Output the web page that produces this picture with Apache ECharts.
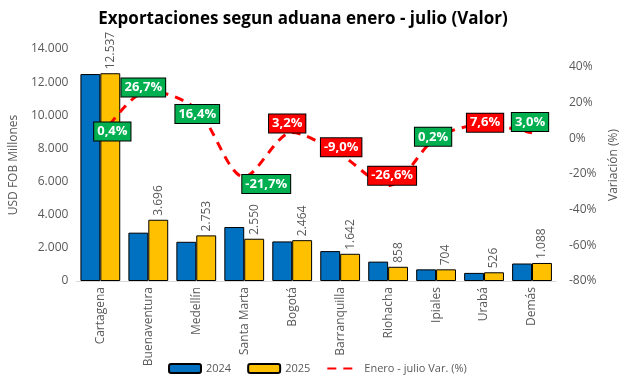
<!DOCTYPE html>
<html>
<head>
<meta charset="utf-8">
<script src="https://cdn.jsdelivr.net/npm/echarts@6/dist/echarts.min.js"></script>
<style>
html,body{margin:0;padding:0;background:#fff;}
#chart{width:631px;height:384px;}
</style>
</head>
<body>
<div id="chart"></div>
<script>
const categories = ['Cartagena','Buenaventura','Medellín','Santa Marta','Bogotá','Barranquilla','Riohacha','Ipiales','Urabá','Demás'];
const values2024 = [12487, 2917, 2365, 3257, 2388, 1804, 1169, 703, 489, 1056];
const values2025 = [12537, 3696, 2753, 2550, 2464, 1642, 858, 704, 526, 1088];
const variation = [0.4, 26.7, 16.4, -21.7, 3.2, -9.0, -26.6, 0.2, 7.6, 3.0];
const leftTicks = [0, 2000, 4000, 6000, 8000, 10000, 12000, 14000];
const rightTicks = [-80, -60, -40, -20, 0, 20, 40];

// label styling (not data)
const GREEN = '#00B050', RED = '#FF0000';
const labelColors = [GREEN, GREEN, GREEN, GREEN, RED, RED, RED, GREEN, RED, GREEN];
const labelOffsets = [[12,-6],[-5,-3],[1,5],[22,7],[-5,-9],[1,-7],[4,-10],[-3,-1],[1,-2],[-2,-11]];

const FONT = '"Open Sans", "Noto Sans", sans-serif';
const GRAY = '#595959';

function fmtThousands(v){
  return String(Math.round(v)).replace(/\B(?=(\d{3})+(?!\d))/g, '.');
}
function fmtPct(v){
  return v.toFixed(1).replace('.', ',') + '%';
}

const chart = echarts.init(document.getElementById('chart'), null, {renderer:'canvas'});

const lineData = variation.map((v, i) => ({
  value: v,
  label: {
    backgroundColor: labelColors[i],
    offset: labelOffsets[i]
  }
}));

chart.setOption({
  animation: false,
  title: {
    text: 'Exportaciones segun aduana enero - julio (Valor)',
    left: 298,
    textAlign: 'center',
    top: 6,
    textStyle: {fontFamily: FONT, fontWeight: 'bold', fontSize: 17, color: '#000'}
  },
  grid: {left: 73, right: 75, top: 49, bottom: 103},
  legend: {
    bottom: 5,
    left: 163,
    itemWidth: 32,
    itemHeight: 9,
    itemGap: 16,
    textStyle: {fontFamily: FONT, fontSize: 11, color: GRAY},
    data: ['2024', '2025', 'Enero - julio Var. (%)']
  },
  xAxis: {
    type: 'category',
    data: categories,
    axisTick: {show: false},
    axisLine: {lineStyle: {color: '#D9D9D9', width: 1}},
    axisLabel: {rotate: 90, fontFamily: FONT, fontSize: 12, color: GRAY, margin: 6, interval: 0}
  },
  yAxis: [
    {
      type: 'value',
      min: leftTicks[0],
      max: leftTicks[leftTicks.length - 1],
      interval: 2000,
      name: 'USD FOB Millones',
      nameLocation: 'middle',
      nameGap: 46,
      nameTextStyle: {fontFamily: FONT, fontSize: 12, color: GRAY},
      splitLine: {show: false},
      axisLine: {show: false},
      axisTick: {show: false},
      axisLabel: {fontFamily: FONT, fontSize: 12, color: GRAY, margin: 8, formatter: v => fmtThousands(v)}
    },
    {
      type: 'value',
      min: rightTicks[0],
      max: 50,
      interval: 20,
      name: 'Variación (%)',
      nameLocation: 'middle',
      nameGap: 48,
      nameTextStyle: {fontFamily: FONT, fontSize: 12, color: GRAY},
      splitLine: {show: false},
      axisLine: {show: false},
      axisTick: {show: false},
      axisLabel: {fontFamily: FONT, fontSize: 12, color: GRAY, margin: 13, showMaxLabel: false,
        formatter: v => (rightTicks.indexOf(v) >= 0 ? v + '%' : '')}
    }
  ],
  series: [
    {
      name: '2024',
      type: 'bar',
      data: values2024,
      barGap: '0%',
      barCategoryGap: '17%',
      itemStyle: {color: '#0070C0', borderColor: '#000', borderWidth: 1}
    },
    {
      name: '2025',
      type: 'bar',
      data: values2025,
      itemStyle: {color: '#FFC000', borderColor: '#000', borderWidth: 1},
      label: {
        show: true,
        position: 'top',
        rotate: 90,
        align: 'left',
        verticalAlign: 'middle',
        distance: 4,
        fontFamily: FONT,
        fontSize: 12,
        color: GRAY,
        formatter: p => fmtThousands(p.value)
      }
    },
    {
      name: 'Enero - julio Var. (%)',
      type: 'line',
      yAxisIndex: 1,
      data: lineData,
      smooth: 0.3,
      symbol: 'circle',
      symbolSize: 1,
      showSymbol: true,
      z: 5,
      lineStyle: {color: '#FF0000', width: 3, type: [9, 7]},
      itemStyle: {color: 'rgba(255,0,0,0)', borderWidth: 0},
      label: {
        show: true,
        position: 'inside',
        fontFamily: FONT,
        fontWeight: 'bold',
        fontSize: 13,
        color: '#fff',
        borderColor: '#000',
        borderWidth: 1,
        padding: [3, 3, 2, 3],
        formatter: p => fmtPct(p.value)
      }
    }
  ]
});
</script>
</body>
</html>
